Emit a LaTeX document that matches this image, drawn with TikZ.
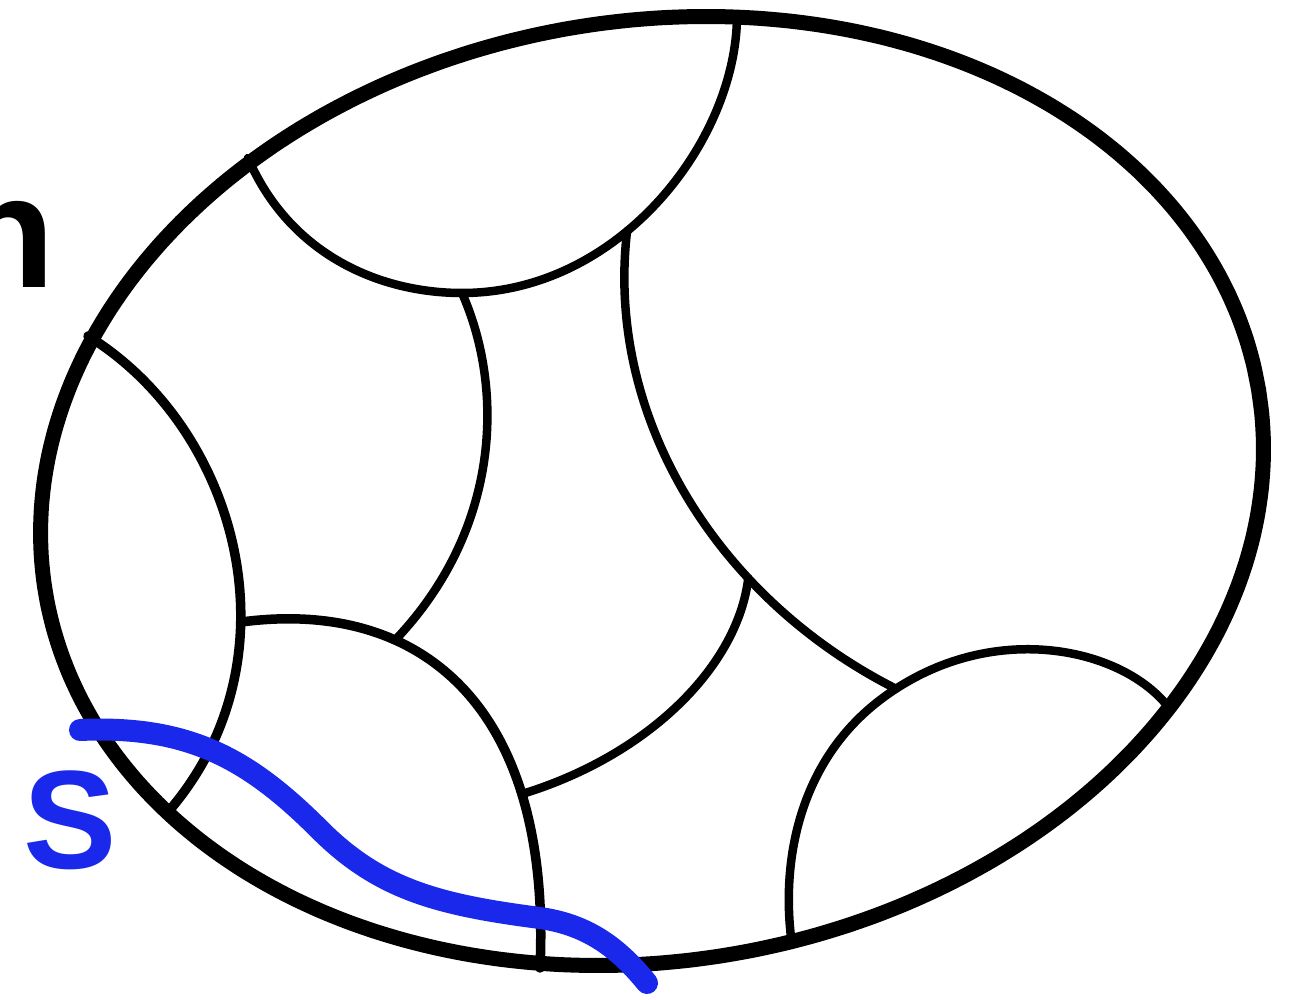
\documentclass[tikz,border=0pt]{standalone}
\usepackage{fontspec}
\setmainfont{Liberation Sans}
\definecolor{penblue}{RGB}{25,40,235}
\begin{document}
\begin{tikzpicture}[x=1pt,y=-1pt,
  outerline/.style={line width=15pt, black},
  cell/.style={line width=8.5pt, black, line cap=round},
  cellthick/.style={line width=9.5pt, black, line cap=round},
  blueline/.style={line width=22pt, penblue, line cap=round},
  lbl/.style={inner sep=0pt, font=\bfseries\fontsize{140}{140}\selectfont}]
\fill[white] (0,0) rectangle (1312,1000);
\useasboundingbox (0,0) rectangle (1312,1000);
% top bowl
\draw[cell] (248,158) .. controls (290,255) and (380,293) .. (462,293) coordinate (j2)
  .. controls (620,293) and (737,140) .. (737,15) coordinate[pos=0.4] (j3);
% left bowl
\draw[cellthick] (88,336) .. controls (240,430) and (300,660) .. (168,812) coordinate[pos=0.63] (ml);
% bottom-middle bowl
\draw[cellthick] (ml) .. controls (420,598) and (552,705) .. (540,968)
  coordinate[pos=0.32] (j4) coordinate[pos=0.74] (j7);
% right bowl
\draw[cell] (1165,703) .. controls (1115,645) and (985,620) .. (880,700) coordinate[pos=0.95] (j5)
  .. controls (800,761) and (780,860) .. (792,945);
% inner walls
\draw[cell] (j2) .. controls (505,390) and (500,530) .. (j4);
\draw[cell] (j3) .. controls (605,420) and (720,600) .. (j5) coordinate[pos=0.68] (j6);
\draw[cell] (j6) .. controls (738,665) and (650,755) .. (j7);
% outer boundary
\draw[outerline] plot[domain=0:360, samples=120, smooth cycle, variable=\t]
  ({652 + 615*cos(\t)*cos(9.5) + 470*sin(\t)*sin(9.5)},
   {491 - 615*cos(\t)*sin(9.5) + 470*sin(\t)*cos(9.5)});
% blue curve S
\coordinate (s0) at (80,730);
\coordinate (s1) at (647,983);
\draw[blueline] (s0) .. controls (190,725) and (250,760) .. (320,830)
  .. controls (380,890) and (440,905) .. (540,918)
  .. controls (590,925) and (620,950) .. (s1);
\node[lbl, text=penblue, anchor=base] (slabel) at (70,868) {S};
\node[lbl, font=\bfseries\fontsize{160}{160}\selectfont, anchor=base east] (nlabel) at (55,288) {n};
\end{tikzpicture}
\end{document}
